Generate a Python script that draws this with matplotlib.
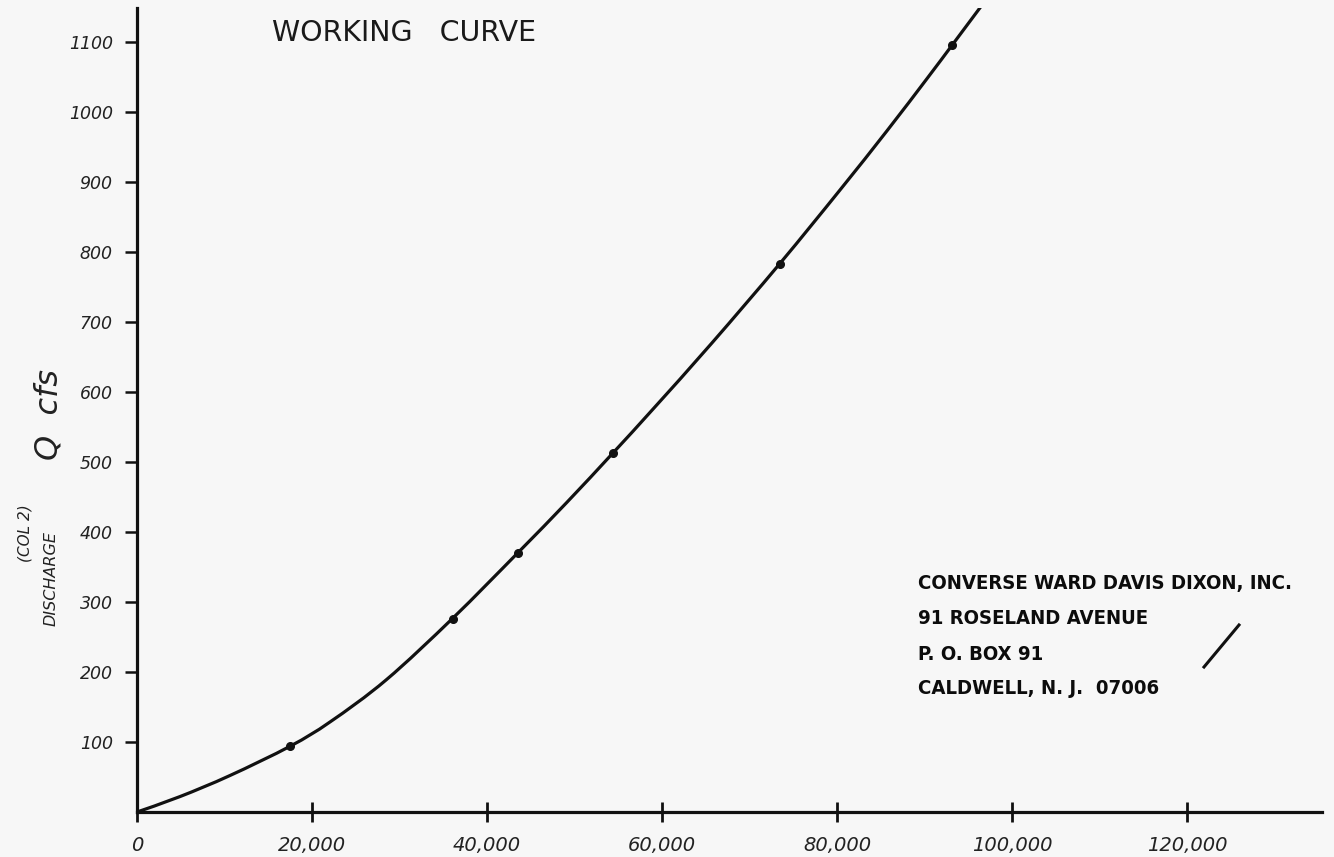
import numpy as np
import matplotlib
matplotlib.use("Agg")
import matplotlib.pyplot as plt
from matplotlib import font_manager as fm
from matplotlib.font_manager import FontProperties
from matplotlib.path import Path
from matplotlib.patches import PathPatch
from matplotlib.textpath import TextPath

## DATA ##
# Hand-drawn working curve (x in units, y in cfs)
curve_x = [0, 4900, 10600, 17500, 22100, 28500, 36100, 43500, 49100,
           54400, 59000, 65700, 73500, 80300, 85700, 90300, 93300, 97000]
curve_y = [0, 22, 52, 94, 129, 189, 277, 370, 442,
           513, 576, 670, 784, 888, 973, 1048, 1098, 1160]

# Plotted points sitting on the curve
point_x = [17500, 36100, 43500, 54400, 73500, 93100]
point_y = [94, 276, 370, 513, 783, 1096]

x_ticks = [0, 20000, 40000, 60000, 80000, 100000, 120000]
x_tick_labels = ["0", "20,000", "40,000", "60,000", "80,000", "100,000", "120,000"]
y_ticks = [100, 200, 300, 400, 500, 600, 700, 800, 900, 1000, 1100]
y_tick_labels = [str(v) for v in y_ticks]

stamp_lines = ["CONVERSE WARD DAVIS DIXON, INC.",
               "91 ROSELAND AVENUE",
               "P. O. BOX 91",
               "CALDWELL, N. J.  07006"]
stamp_y = [584, 619, 654, 689]        # px from top, line centres


# Smooth pen line through the read points (Catmull-Rom turned into Bezier)
def smooth_path(xs, ys):
    pts = np.column_stack([xs, ys]).astype(float)
    verts = [pts[0]]
    codes = [Path.MOVETO]
    n = len(pts)
    for i in range(n - 1):
        p0 = pts[max(i - 1, 0)]
        p1 = pts[i]
        p2 = pts[i + 1]
        p3 = pts[min(i + 2, n - 1)]
        c1 = p1 + (p2 - p0) / 6.0
        c2 = p2 - (p3 - p1) / 6.0
        verts += [c1, c2, p2]
        codes += [Path.CURVE4] * 3
    return Path(verts, codes)


# Look for a narrow bold face for the rubber stamp
def pick_stamp_font():
    order = {"extra-condensed": 0, "condensed": 1, "semi-condensed": 2}
    best = None
    for f in fm.fontManager.ttflist:
        narrow = ("Narrow" in f.name or "Condensed" in f.name or f.stretch in order)
        heavy = f.weight in ("bold", "heavy", "black") or (isinstance(f.weight, int) and f.weight >= 700)
        if narrow and heavy and f.style == "normal":
            rank = order.get(f.stretch, 1)
            if best is None or rank < best[0]:
                best = (rank, f.fname)
    if best:
        return FontProperties(fname=best[1])
    return FontProperties(family="DejaVu Sans", weight="bold")


## FIGURE ##
paper = "#f7f7f7"
ink = "#111111"

fig = plt.figure(figsize=(13.34, 8.57), dpi=100, facecolor=paper)
ax = fig.add_axes([0.1027, 0.0525, 0.8883, 0.9381], facecolor=paper)

ax.add_patch(PathPatch(smooth_path(curve_x, curve_y), fill=False, edgecolor=ink,
                       lw=2.3, capstyle="round"))
ax.plot(point_x, point_y, "o", color=ink, ms=5.5)

ax.set_xlim(0, 135430)
ax.set_ylim(0, 1148.6)

for side in ["top", "right"]:
    ax.spines[side].set_visible(False)
for side in ["left", "bottom"]:
    ax.spines[side].set_linewidth(2.3)
    ax.spines[side].set_color(ink)

hand = {"family": ["DejaVu Sans"], "style": "italic", "color": "#222222"}

ax.set_xticks(x_ticks)
ax.set_xticklabels(x_tick_labels, fontsize=14, **hand)
ax.set_yticks(y_ticks)
ax.set_yticklabels(y_tick_labels, fontsize=12.5, **hand)
ax.tick_params(axis="x", direction="inout", length=14, width=2, color=ink, pad=10)
ax.tick_params(axis="y", direction="out", length=8.5, width=1.8, color=ink, pad=9)

# title, hand lettered on the sheet
fig.text(0.204, 1 - 33 / 857, "WORKING   CURVE", fontsize=20.5, va="center", ha="left",
         family=["DejaVu Sans"], color="#1a1a1a")

# axis label pieces
fig.text(0.038, 1 - 578 / 857, "DISCHARGE", rotation=90, fontsize=11.5,
         va="center", ha="center", **hand)
fig.text(0.037, 1 - 415 / 857, "Q  cfs", rotation=90, fontsize=23,
         va="center", ha="center", **hand)
fig.text(0.019, 1 - 533 / 857, "(COL 2)", rotation=90, fontsize=11,
         va="center", ha="center", **hand)

# rubber stamp: one size for all lines, taken from the width of the first line
stamp_font = pick_stamp_font()
w_pt = TextPath((0, 0), stamp_lines[0], size=10, prop=stamp_font).get_extents().width
stamp_size = 10 * 372 / (w_pt * 100 / 72)
for line, yy in zip(stamp_lines, stamp_y):
    fig.text(918 / 1334, 1 - yy / 857, line, fontproperties=stamp_font, fontsize=stamp_size,
             va="center", ha="left", color="#0c0c0c")

# pen stroke next to the stamp
fig.add_artist(plt.Line2D([1204 / 1334, 1239 / 1334], [1 - 667 / 857, 1 - 625 / 857],
                          color=ink, lw=2.2, transform=fig.transFigure))

fig.savefig("out.png", dpi=100, facecolor=paper)
